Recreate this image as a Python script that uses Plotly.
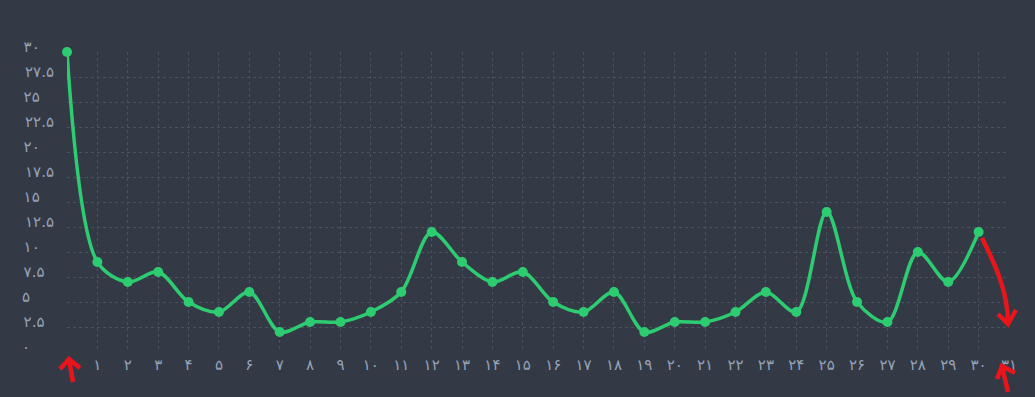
import plotly.graph_objects as go

FA = str.maketrans("0123456789", "۰۱۲۳۴۵۶۷۸۹")
NBSP = "\u00a0"


def fa(s):
    return str(s).translate(FA)


# data
days = list(range(0, 31))
values = [30, 9, 7, 8, 5, 4, 6, 2, 3, 3, 4, 6, 12, 9, 7, 8, 5, 4, 6, 2, 3, 3, 4, 6, 4, 14, 5, 3, 10, 7, 12]
x_tick_vals = list(range(1, 32))
x_tick_text = [fa(v) for v in x_tick_vals]
y_tick_vals = [0, 2.5, 5, 7.5, 10, 12.5, 15, 17.5, 20, 22.5, 25, 27.5, 30]
y_tick_raw = [fa(v if v != int(v) else int(v)) for v in y_tick_vals]


def units(s):
    return sum(1 if c == "." else 2 for c in s)


maxu = max(units(s) for s in y_tick_raw)
# left-align labels by padding with no-break spaces
y_tick_text = [s + NBSP * (maxu - units(s)) for s in y_tick_raw]

BG = "#333a46"
GRID = "#4a5261"
LABEL = "#97a2b6"
GREEN = "#2ecc71"
RED = "#e8151b"

fig = go.Figure()
fig.add_trace(go.Scatter(
    x=days, y=values, mode="lines+markers",
    line=dict(color=GREEN, width=3.5, shape="spline", smoothing=0.9),
    marker=dict(color=GREEN, size=10),
    cliponaxis=False, hoverinfo="skip", showlegend=False,
))

axis_common = dict(showgrid=True, gridcolor=GRID, griddash="dot", gridwidth=1,
                   zeroline=False, showline=False, ticks="",
                   tickfont=dict(family="DejaVu Sans, sans-serif", size=15, color=LABEL))

fig.update_layout(
    width=1035, height=397,
    paper_bgcolor=BG, plot_bgcolor=BG,
    margin=dict(l=67, r=26, t=52, b=45),
    xaxis=dict(range=[0, 31], tickmode="array", tickvals=x_tick_vals, ticktext=x_tick_text,
               ticklabelstandoff=2, **axis_common),
    yaxis=dict(range=[0, 30], tickmode="array", tickvals=y_tick_vals, ticktext=y_tick_text,
               ticklabelstandoff=12, ticklabelshift=-5, **axis_common),
)

# hand-drawn style red arrows (pixel offsets from the plot-area origin)
red_line = dict(color=RED, width=4.5)
arrow_paths = [
    "M 6 -30 L 2 -7 M -7 -17 L 2 -7 L 13 -16",
    "M 941 -40 L 935 -14 M 930 -27 L 935 -14 L 948 -21",
    "M 915 114 C 928 88 941 60 941 29 M 931 38 L 941 28 L 949 42",
]
for p in arrow_paths:
    fig.add_shape(type="path", xref="paper", yref="paper", xsizemode="pixel", ysizemode="pixel",
                  xanchor=0, yanchor=0, path=p, line=red_line, layer="above")

fig.write_html("out.html", config={"displayModeBar": False},
               post_script="document.body.style.margin='0';document.body.style.background='#333a46';")
